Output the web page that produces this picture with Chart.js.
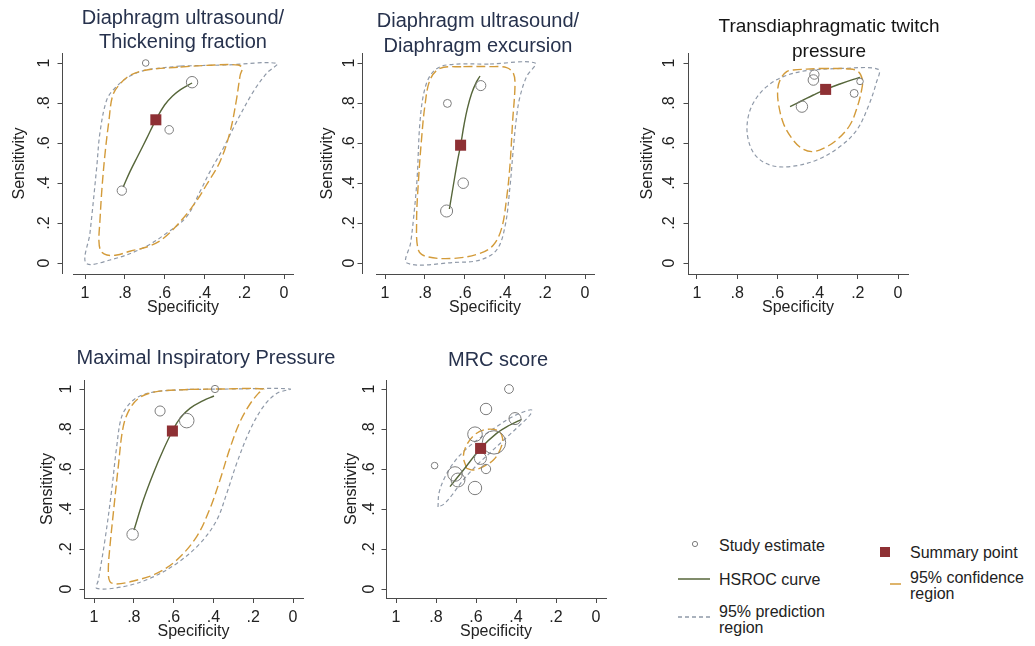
<!DOCTYPE html>
<html lang="en">
<head>
<meta charset="UTF-8">
<title>HSROC plots</title>
<script src="https://cdn.jsdelivr.net/npm/chart.js"></script>
<style>
    body { margin: 0; background: #fff; font-family: "Liberation Sans", Arial, Helvetica, sans-serif; }
    #figure { position: relative; width: 1035px; height: 646px; overflow: hidden; background: #fff; }
    #figure canvas { position: absolute; }
    #legendKeys { position: absolute; left: 660px; top: 520px; }
    .lab { position: absolute; font-size: 16px; line-height: 16px; color: #222; white-space: nowrap; }
</style>
</head>
<body>
<div id="figure">
    <svg id="legendKeys" width="375" height="126">
        <circle cx="35" cy="24" r="2.6" fill="none" stroke="#7d7d7d" stroke-width="1"/>
        <line x1="18" y1="59" x2="50" y2="59" stroke="#56663a" stroke-width="1.5"/>
        <line x1="18" y1="97" x2="50" y2="97" stroke="#8f99a8" stroke-width="1.3" stroke-dasharray="4 3"/>
        <rect x="220" y="27" width="10" height="10" fill="#8e3034"/>
        <line x1="230" y1="64" x2="241" y2="64" stroke="#d39b3a" stroke-width="1.5"/>
    </svg>
    <span class="lab" style="left:719px;top:538px">Study estimate</span>
    <span class="lab" style="left:719px;top:572px">HSROC curve</span>
    <span class="lab" style="left:719px;top:604px">95% prediction<br>region</span>
    <span class="lab" style="left:910px;top:545px">Summary point</span>
    <span class="lab" style="left:910px;top:570px">95% confidence<br>region</span>
</div>

<script>
    // ---- values: specificity / sensitivity read per panel ----
    const tickValues = [0, 0.2, 0.4, 0.6, 0.8, 1];

    // Diaphragm ultrasound / thickening fraction
    const tfStudySpec = [0.695, 0.462, 0.577, 0.815];
    const tfStudySens = [1.000, 0.904, 0.666, 0.362];
    const tfStudyWeight = [9, 27, 15, 18];
    const tfSummary = [0.644, 0.716];
    const tfCurveSpec = [0.808, 0.774, 0.732, 0.690, 0.644, 0.600, 0.560, 0.520, 0.462];
    const tfCurveSens = [0.380, 0.457, 0.540, 0.623, 0.716, 0.790, 0.835, 0.867, 0.900];
    const tfConfSpec = [0.52, 0.35, 0.23, 0.21, 0.22, 0.24, 0.27, 0.32, 0.39, 0.44, 0.51, 0.61, 0.69, 0.77, 0.84, 0.89, 0.92, 0.93, 0.925, 0.915, 0.90, 0.88, 0.86, 0.82, 0.77, 0.69, 0.52];
    const tfConfSens = [0.98, 0.99, 0.99, 0.975, 0.94, 0.81, 0.66, 0.51, 0.39, 0.31, 0.22, 0.12, 0.08, 0.06, 0.04, 0.04, 0.06, 0.11, 0.21, 0.37, 0.54, 0.71, 0.84, 0.90, 0.94, 0.965, 0.98];
    const tfPredSpec = [0.52, 0.30, 0.036, 0.087, 0.154, 0.238, 0.305, 0.372, 0.422, 0.489, 0.589, 0.709, 0.874, 0.995, 0.975, 0.941, 0.925, 0.891, 0.849, 0.774, 0.69, 0.52];
    const tfPredSens = [0.985, 0.99, 0.998, 0.949, 0.857, 0.707, 0.574, 0.457, 0.357, 0.232, 0.15, 0.075, 0.015, 0.0, 0.15, 0.48, 0.65, 0.815, 0.875, 0.935, 0.965, 0.985];

    // Diaphragm ultrasound / diaphragm excursion
    const deStudySpec = [0.688, 0.521, 0.609, 0.692];
    const deStudySens = [0.798, 0.887, 0.399, 0.260];
    const deStudyWeight = [13, 21, 23, 30];
    const deSummary = [0.622, 0.589];
    const deCurveSpec = [0.678, 0.658, 0.638, 0.622, 0.605, 0.588, 0.567, 0.542, 0.525];
    const deCurveSens = [0.270, 0.390, 0.507, 0.589, 0.690, 0.773, 0.848, 0.907, 0.935];
    const deConfSpec = [0.608, 0.475, 0.392, 0.358, 0.350, 0.362, 0.375, 0.392, 0.417, 0.458, 0.525, 0.658, 0.792, 0.833, 0.842, 0.833, 0.817, 0.800, 0.775, 0.725, 0.608];
    const deConfSens = [0.982, 0.982, 0.977, 0.948, 0.890, 0.707, 0.490, 0.323, 0.173, 0.090, 0.048, 0.023, 0.032, 0.065, 0.207, 0.407, 0.623, 0.790, 0.915, 0.973, 0.982];
    const dePredSpec = [0.475, 0.250, 0.292, 0.325, 0.342, 0.359, 0.375, 0.400, 0.442, 0.525, 0.650, 0.890, 0.872, 0.859, 0.840, 0.825, 0.800, 0.759, 0.692, 0.475];
    const dePredSens = [0.995, 1.000, 0.932, 0.832, 0.732, 0.565, 0.382, 0.182, 0.065, 0.015, 0.003, 0.000, 0.100, 0.207, 0.415, 0.707, 0.874, 0.957, 0.990, 0.995];

    // Transdiaphragmatic twitch pressure
    const twStudySpec = [0.416, 0.421, 0.478, 0.218, 0.189];
    const twStudySens = [0.942, 0.915, 0.782, 0.848, 0.908];
    const twStudyWeight = [18, 23, 27, 13, 9];
    const twSummary = [0.360, 0.868];
    const twCurveSpec = [0.537, 0.471, 0.421, 0.360, 0.289, 0.222, 0.189];
    const twCurveSens = [0.782, 0.815, 0.840, 0.868, 0.895, 0.918, 0.928];
    const twConfSpec = [0.388, 0.239, 0.197, 0.177, 0.181, 0.202, 0.239, 0.305, 0.371, 0.429, 0.479, 0.528, 0.570, 0.595, 0.598, 0.583, 0.554, 0.521, 0.388];
    const twConfSens = [0.973, 0.970, 0.957, 0.915, 0.865, 0.782, 0.690, 0.615, 0.573, 0.557, 0.573, 0.623, 0.698, 0.798, 0.873, 0.923, 0.957, 0.965, 0.973];
    const twPredSpec = [0.289, 0.098, 0.109, 0.148, 0.205, 0.289, 0.404, 0.537, 0.637, 0.711, 0.748, 0.745, 0.711, 0.653, 0.570, 0.454, 0.289];
    const twPredSens = [0.973, 0.968, 0.898, 0.782, 0.665, 0.582, 0.515, 0.482, 0.490, 0.540, 0.632, 0.732, 0.815, 0.882, 0.932, 0.962, 0.973];

    // Maximal inspiratory pressure
    const mipStudySpec = [0.392, 0.668, 0.534, 0.806];
    const mipStudySens = [1.000, 0.890, 0.842, 0.273];
    const mipStudyWeight = [11, 21, 44, 27];
    const mipSummary = [0.606, 0.790];
    const mipCurveSpec = [0.799, 0.752, 0.702, 0.652, 0.606, 0.568, 0.518, 0.451, 0.397];
    const mipCurveSens = [0.295, 0.445, 0.578, 0.695, 0.790, 0.853, 0.903, 0.942, 0.965];
    const mipConfSpec = [0.518, 0.350, 0.149, 0.174, 0.216, 0.266, 0.317, 0.367, 0.417, 0.484, 0.584, 0.685, 0.802, 0.886, 0.920, 0.928, 0.920, 0.903, 0.878, 0.853, 0.819, 0.769, 0.685, 0.518];
    const mipConfSens = [0.998, 1.000, 1.000, 0.978, 0.925, 0.837, 0.703, 0.545, 0.403, 0.262, 0.145, 0.078, 0.040, 0.025, 0.037, 0.095, 0.212, 0.378, 0.612, 0.812, 0.903, 0.958, 0.987, 0.998];
    const mipPredSpec = [0.518, 0.300, 0.015, 0.082, 0.149, 0.216, 0.283, 0.333, 0.383, 0.467, 0.584, 0.719, 0.853, 0.986, 0.978, 0.945, 0.911, 0.886, 0.861, 0.819, 0.769, 0.685, 0.518];
    const mipPredSens = [0.998, 1.000, 1.000, 0.978, 0.912, 0.795, 0.628, 0.478, 0.345, 0.228, 0.128, 0.053, 0.012, 0.003, 0.045, 0.245, 0.495, 0.712, 0.862, 0.929, 0.965, 0.987, 0.998];

    // MRC score
    const mrcStudySpec = [0.435, 0.550, 0.405, 0.605, 0.510, 0.578, 0.550, 0.705, 0.690, 0.605, 0.807];
    const mrcStudySens = [1.000, 0.900, 0.852, 0.774, 0.733, 0.653, 0.600, 0.575, 0.545, 0.505, 0.617];
    const mrcStudyWeight = [16, 27, 30, 44, 113, 30, 18, 44, 40, 37, 9];
    const mrcSummary = [0.577, 0.703];
    const mrcCurveSpec = [0.730, 0.663, 0.577, 0.497, 0.430, 0.372];
    const mrcCurveSens = [0.512, 0.595, 0.703, 0.778, 0.820, 0.848];
    const mrcConfSpec = [0.647, 0.663, 0.647, 0.605, 0.547, 0.488, 0.467, 0.480, 0.513, 0.563, 0.613, 0.647];
    const mrcConfSens = [0.603, 0.662, 0.720, 0.773, 0.798, 0.790, 0.753, 0.695, 0.645, 0.612, 0.595, 0.603];
    const mrcPredSpec = [0.790, 0.785, 0.760, 0.720, 0.660, 0.580, 0.500, 0.420, 0.350, 0.322, 0.330, 0.380, 0.450, 0.520, 0.590, 0.660, 0.720, 0.760, 0.790];
    const mrcPredSens = [0.410, 0.480, 0.550, 0.620, 0.690, 0.755, 0.810, 0.860, 0.890, 0.895, 0.870, 0.820, 0.755, 0.690, 0.625, 0.550, 0.470, 0.425, 0.410];

    // ---- styling ----
    const FONT = '"Liberation Sans", Arial, Helvetica, sans-serif';
    const AXIS_COLOR = '#4a4a4a';
    const TEXT_COLOR = '#222';
    const STUDY_COLOR = '#7d7d7d';
    const CURVE_COLOR = '#56663a';
    const SUMMARY_COLOR = '#8e3034';
    const CONF_COLOR = '#d39b3a';
    const PRED_COLOR = '#8f99a8';
    const X_AXIS_HEIGHT = 46;
    const LABEL_LH = 16 * 1.2;

    Chart.defaults.font.family = FONT;
    Chart.defaults.color = TEXT_COLOR;

    // Stata style labels: 0, .2, .4 ... 1
    const tickLabel = v => (v === 0 ? '0' : v === 1 ? '1' : v.toFixed(1).slice(1));

    const measureCtx = document.createElement('canvas').getContext('2d');
    measureCtx.font = '16px ' + FONT;
    const widestTick = Math.max(...tickValues.map(v => measureCtx.measureText(tickLabel(v)).width));

    // panel placement on the page (pixels) and where 1 / 0 fall on each axis
    const panels = [
        { box: { x: 0, y: 0, w: 340, h: 330 }, title: ['Diaphragm ultrasound/', 'Thickening fraction'],
          titleX: 183, titleY: [18, 42], titleSize: 20, titleColor: '#27324d',
          x1: 85, x0: 284, y1: 63, y0: 263, axisX: 62, left: 73, right: 293, top: 53, bottom: 274,
          yTitleX: 20, yLabelX: 45,
          study: [tfStudySpec, tfStudySens, tfStudyWeight], summary: tfSummary,
          curve: [tfCurveSpec, tfCurveSens], conf: [tfConfSpec, tfConfSens], pred: [tfPredSpec, tfPredSens] },
        { box: { x: 300, y: 0, w: 340, h: 330 }, title: ['Diaphragm ultrasound/', 'Diaphragm excursion'],
          titleX: 478, titleY: [21, 46], titleSize: 20, titleColor: '#27324d',
          x1: 385, x0: 585, y1: 63, y0: 263, axisX: 362, left: 376, right: 594, top: 53, bottom: 274,
          yTitleX: 328, yLabelX: 350,
          study: [deStudySpec, deStudySens, deStudyWeight], summary: deSummary,
          curve: [deCurveSpec, deCurveSens], conf: [deConfSpec, deConfSens], pred: [dePredSpec, dePredSens] },
        { box: { x: 620, y: 0, w: 415, h: 330 }, title: ['Transdiaphragmatic twitch', 'pressure'],
          titleX: 829, titleY: [27, 52], titleSize: 19, titleColor: '#151515',
          x1: 697, x0: 898, y1: 63, y0: 263, axisX: 688, left: 688, right: 908, top: 53, bottom: 274,
          yTitleX: 648, yLabelX: 670,
          study: [twStudySpec, twStudySens, twStudyWeight], summary: twSummary,
          curve: [twCurveSpec, twCurveSens], conf: [twConfSpec, twConfSens], pred: [twPredSpec, twPredSens] },
        { box: { x: 0, y: 330, w: 345, h: 316 }, title: ['Maximal Inspiratory Pressure'],
          titleX: 206, titleY: [358], titleSize: 20, titleColor: '#27324d',
          x1: 94, x0: 293, y1: 389, y0: 589, axisX: 84, left: 84, right: 303, top: 380, bottom: 598,
          yTitleX: 48, yLabelX: 67,
          study: [mipStudySpec, mipStudySens, mipStudyWeight], summary: mipSummary,
          curve: [mipCurveSpec, mipCurveSens], conf: [mipConfSpec, mipConfSens], pred: [mipPredSpec, mipPredSens] },
        { box: { x: 320, y: 330, w: 340, h: 316 }, title: ['MRC score'],
          titleX: 498, titleY: [360], titleSize: 20, titleColor: '#27324d',
          x1: 396, x0: 596, y1: 389, y0: 589, axisX: 386, left: 386, right: 606, top: 380, bottom: 598,
          yTitleX: 352, yLabelX: 370,
          study: [mrcStudySpec, mrcStudySens, mrcStudyWeight], summary: mrcSummary,
          curve: [mrcCurveSpec, mrcCurveSens], conf: [mrcConfSpec, mrcConfSens], pred: [mrcPredSpec, mrcPredSens] }
    ];

    const toPoints = (xs, ys) => xs.map((x, i) => ({ x, y: ys[i] }));

    // panel heading, centred where the figure puts it
    const panelTitlePlugin = {
        id: 'panelTitle',
        afterDraw(chart, args, opts) {
            const ctx = chart.ctx;
            ctx.save();
            ctx.font = opts.size + 'px ' + FONT;
            ctx.fillStyle = opts.color;
            ctx.textAlign = 'center';
            ctx.textBaseline = 'middle';
            opts.lines.forEach((line, i) => ctx.fillText(line, opts.x, opts.y[i]));
            ctx.restore();
        }
    };

    // y axis line with outward ticks, set a little left of the plot area
    const offsetAxisPlugin = {
        id: 'offsetAxis',
        afterDraw(chart, args, opts) {
            const { ctx, chartArea } = chart;
            const yScale = chart.scales.y;
            const x = Math.round(opts.x) + 0.5;
            ctx.save();
            ctx.strokeStyle = AXIS_COLOR;
            ctx.lineWidth = 1;
            ctx.beginPath();
            ctx.moveTo(x, chartArea.top);
            ctx.lineTo(x, chartArea.bottom);
            yScale.ticks.forEach(t => {
                const py = Math.round(yScale.getPixelForValue(t.value)) + 0.5;
                ctx.moveTo(x - 5, py);
                ctx.lineTo(x, py);
            });
            ctx.stroke();
            ctx.restore();
        }
    };

    const figure = document.getElementById('figure');

    panels.forEach(p => {
        const canvas = document.createElement('canvas');
        canvas.width = p.box.w;
        canvas.height = p.box.h;
        canvas.style.left = p.box.x + 'px';
        canvas.style.top = p.box.y + 'px';
        figure.insertBefore(canvas, figure.firstChild);

        const ppx = p.x0 - p.x1;
        const ppy = p.y0 - p.y1;
        const xMax = 1 + (p.x1 - p.left) / ppx;
        const xMin = -(p.right - p.x0) / ppx;
        const yMax = 1 + (p.y1 - p.top) / ppy;
        const yMin = -(p.bottom - p.y0) / ppy;

        const [sSpec, sSens, sWeight] = p.study;

        const datasets = [
            {
                label: 'Summary point',
                data: [{ x: p.summary[0], y: p.summary[1] }],
                pointStyle: 'rect',
                pointRadius: 7.8,
                backgroundColor: SUMMARY_COLOR,
                borderColor: SUMMARY_COLOR,
                borderWidth: 0
            },
            {
                label: 'Study estimate',
                data: toPoints(sSpec, sSens),
                pointStyle: 'circle',
                pointRadius: sWeight.map(w => 1.1 * Math.sqrt(w)),
                backgroundColor: 'rgba(0,0,0,0)',
                borderColor: STUDY_COLOR,
                borderWidth: 1
            },
            {
                label: 'HSROC curve',
                data: toPoints(p.curve[0], p.curve[1]),
                showLine: true,
                pointRadius: 0,
                borderColor: CURVE_COLOR,
                borderWidth: 1.4,
                tension: 0.4
            },
            {
                label: '95% confidence region',
                data: toPoints(p.conf[0], p.conf[1]),
                showLine: true,
                pointRadius: 0,
                borderColor: CONF_COLOR,
                borderWidth: 1.4,
                borderDash: [9, 4],
                tension: 0.35
            },
            {
                label: '95% prediction region',
                data: toPoints(p.pred[0], p.pred[1]),
                showLine: true,
                pointRadius: 0,
                borderColor: PRED_COLOR,
                borderWidth: 1.2,
                borderDash: [4, 3],
                tension: 0.35
            }
        ];

        new Chart(canvas, {
            type: 'scatter',
            data: { datasets },
            plugins: [panelTitlePlugin, offsetAxisPlugin],
            options: {
                responsive: false,
                animation: false,
                devicePixelRatio: 1,
                events: [],
                layout: {
                    padding: {
                        left: 0,
                        top: p.top - p.box.y,
                        right: p.box.x + p.box.w - p.right,
                        bottom: p.box.y + p.box.h - p.bottom - X_AXIS_HEIGHT
                    }
                },
                plugins: {
                    legend: { display: false },
                    tooltip: { enabled: false },
                    panelTitle: {
                        lines: p.title,
                        x: p.titleX - p.box.x,
                        y: p.titleY.map(v => v - p.box.y),
                        size: p.titleSize,
                        color: p.titleColor
                    },
                    offsetAxis: { x: p.axisX - p.box.x }
                },
                scales: {
                    x: {
                        type: 'linear',
                        position: 'bottom',
                        reverse: true,
                        bounds: 'data',
                        min: xMin,
                        max: xMax,
                        afterBuildTicks: s => { s.ticks = tickValues.map(v => ({ value: v })); },
                        afterFit: s => { s.height = X_AXIS_HEIGHT; },
                        ticks: {
                            callback: v => tickLabel(v),
                            font: { size: 16 },
                            color: TEXT_COLOR,
                            padding: 5.4,
                            maxRotation: 0,
                            autoSkip: false
                        },
                        grid: { drawOnChartArea: false, drawTicks: true, tickLength: 5, color: AXIS_COLOR },
                        border: { display: true, color: AXIS_COLOR, width: 1 },
                        title: {
                            display: true,
                            text: 'Specificity',
                            font: { size: 16 },
                            color: TEXT_COLOR,
                            padding: { top: 0, bottom: X_AXIS_HEIGHT - 34 - LABEL_LH / 2 }
                        }
                    },
                    y: {
                        type: 'linear',
                        position: 'left',
                        bounds: 'data',
                        min: yMin,
                        max: yMax,
                        afterBuildTicks: s => { s.ticks = tickValues.map(v => ({ value: v })); },
                        afterFit: s => { s.width = p.left - p.box.x; },
                        ticks: {
                            callback: v => tickLabel(v),
                            font: { size: 16 },
                            color: TEXT_COLOR,
                            minRotation: 90,
                            maxRotation: 90,
                            crossAlign: 'center',
                            padding: p.left - p.yLabelX - widestTick / 2,
                            autoSkip: false
                        },
                        grid: { display: false, drawTicks: false },
                        border: { display: false },
                        title: {
                            display: true,
                            text: 'Sensitivity',
                            font: { size: 16 },
                            color: TEXT_COLOR,
                            padding: { top: p.yTitleX - p.box.x - LABEL_LH / 2, bottom: 0 }
                        }
                    }
                }
            }
        });
    });
</script>
</body>
</html>
